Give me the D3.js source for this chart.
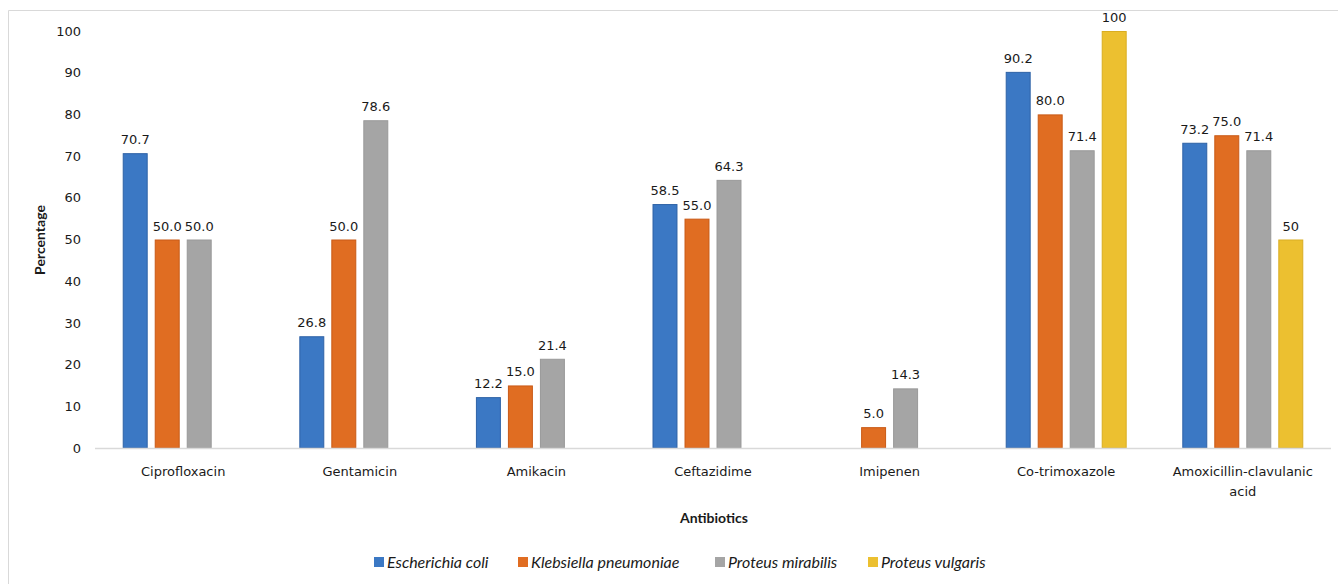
<!DOCTYPE html>
<html>
<head>
<meta charset="utf-8">
<script src="https://cdn.jsdelivr.net/npm/d3@7"></script>
<style>
  body { margin: 0; background: #fff; }
  svg { display: block; }
</style>
</head>
<body>
<svg id="chart" width="1338" height="584"></svg>
<script>
// data
var antibiotics = ["Ciprofloxacin", "Gentamicin", "Amikacin", "Ceftazidime", "Imipenen", "Co-trimoxazole", "Amoxicillin-clavulanic acid"]
var seriesNames = ["Escherichia coli", "Klebsiella pneumoniae", "Proteus mirabilis", "Proteus vulgaris"]
var ecoli = [70.7, 26.8, 12.2, 58.5, null, 90.2, 73.2]
var klebsiella = [50.0, 50.0, 15.0, 55.0, 5.0, 80.0, 75.0]
var mirabilis = [50.0, 78.6, 21.4, 64.3, 14.3, 71.4, 71.4]
var vulgaris = [null, null, null, null, null, 100, 50]
var yTicks = [0, 10, 20, 30, 40, 50, 60, 70, 80, 90, 100]

var colors = ["#3b78c4", "#e06d22", "#a5a5a5", "#ecc030"]
var strokes = ["#2e62a6", "#c95a16", "#999999", "#d9ad22"]
var allSeries = [ecoli, klebsiella, mirabilis, vulgaris]

var svg = d3.select("#chart")
var numFont = "'DejaVu Sans', Verdana, sans-serif"
var titleFont = "Lato, 'Open Sans', sans-serif"

// outer frame
svg.append("path")
  .attr("d", "M8.5,584 V10.5 H1338")
  .attr("fill", "none")
  .attr("stroke", "#d9d9d9")

var x = d3.scaleBand()
  .domain(antibiotics)
  .range([95, 1331])
  .paddingInner(0.315)
  .paddingOuter(0.157)

var x1 = d3.scaleBand()
  .domain(d3.range(4))
  .range([0, x.bandwidth()])
  .paddingInner(0.22)

var y = d3.scaleLinear()
  .domain([0, 100])
  .range([448, 31])

// y tick labels
svg.append("g").selectAll("text")
  .data(yTicks)
  .join("text")
  .attr("x", 81)
  .attr("y", function(d) { return y(d) })
  .attr("dy", "0.36em")
  .attr("text-anchor", "end")
  .style("font-family", numFont)
  .style("font-size", "13px")
  .attr("fill", "#1a1a1a")
  .text(function(d) { return d })

// bars
for (var s = 0; s < 4; s++) {
  var g = svg.append("g")
  var rows = antibiotics.map(function(a, i) { return {cat: a, v: allSeries[s][i]} })
    .filter(function(d) { return d.v != null })
  g.selectAll("rect")
    .data(rows)
    .join("rect")
    .attr("x", function(d) { return x(d.cat) + x1(s) + 0.5 })
    .attr("y", function(d) { return y(d.v) + 0.5 })
    .attr("width", x1.bandwidth() - 1)
    .attr("height", function(d) { return y(0) - y(d.v) - 0.5 })
    .attr("fill", colors[s])
    .attr("stroke", strokes[s])
    .attr("stroke-width", 1)
  g.selectAll("text")
    .data(rows)
    .join("text")
    .attr("x", function(d) { return x(d.cat) + x1(s) + x1.bandwidth() / 2 })
    .attr("y", function(d) { return y(d.v) - 9 })
    .attr("text-anchor", "middle")
    .style("font-family", numFont)
    .style("font-size", "13px")
    .attr("fill", "#1a1a1a")
    .text(function(d) { return s == 3 ? d.v : d.v.toFixed(1) })
}

// baseline
svg.append("line")
  .attr("x1", 95).attr("x2", 1331)
  .attr("y1", y(0) + 0.5).attr("y2", y(0) + 0.5)
  .attr("stroke", "#d9d9d9")
  .attr("stroke-width", 1.5)

// category labels (wrap the long one)
var catLines = {"Amoxicillin-clavulanic acid": ["Amoxicillin-clavulanic", "acid"]}
antibiotics.forEach(function(a) {
  var lines = catLines[a] || [a]
  var t = svg.append("text")
    .attr("x", x(a) + x.bandwidth() / 2)
    .attr("y", 476)
    .attr("text-anchor", "middle")
    .style("font-family", numFont)
    .style("font-size", "13px")
    .attr("fill", "#1a1a1a")
  lines.forEach(function(l, i) {
    t.append("tspan")
      .attr("x", x(a) + x.bandwidth() / 2)
      .attr("dy", i == 0 ? 0 : 20)
      .text(l)
  })
})

// axis titles
svg.append("text")
  .attr("x", 714).attr("y", 523)
  .attr("text-anchor", "middle")
  .style("font-family", titleFont)
  .style("font-size", "14px")
  .style("font-weight", "bold")
  .attr("fill", "#1a1a1a")
  .text("Antibiotics")

svg.append("text")
  .attr("transform", "translate(45,240) rotate(-90)")
  .attr("text-anchor", "middle")
  .style("font-family", titleFont)
  .style("font-size", "14px")
  .style("font-weight", "bold")
  .attr("fill", "#1a1a1a")
  .text("Percentage")

// legend
var legendX = [374, 518, 715, 868]
var legend = svg.append("g")
seriesNames.forEach(function(n, i) {
  legend.append("rect")
    .attr("x", legendX[i]).attr("y", 557)
    .attr("width", 10).attr("height", 10)
    .attr("fill", colors[i])
  legend.append("text")
    .attr("x", legendX[i] + 13).attr("y", 568)
    .style("font-family", titleFont)
    .style("font-size", "16px")
    .style("font-style", "italic")
    .attr("fill", "#1a1a1a")
    .text(n)
})
</script>
</body>
</html>
